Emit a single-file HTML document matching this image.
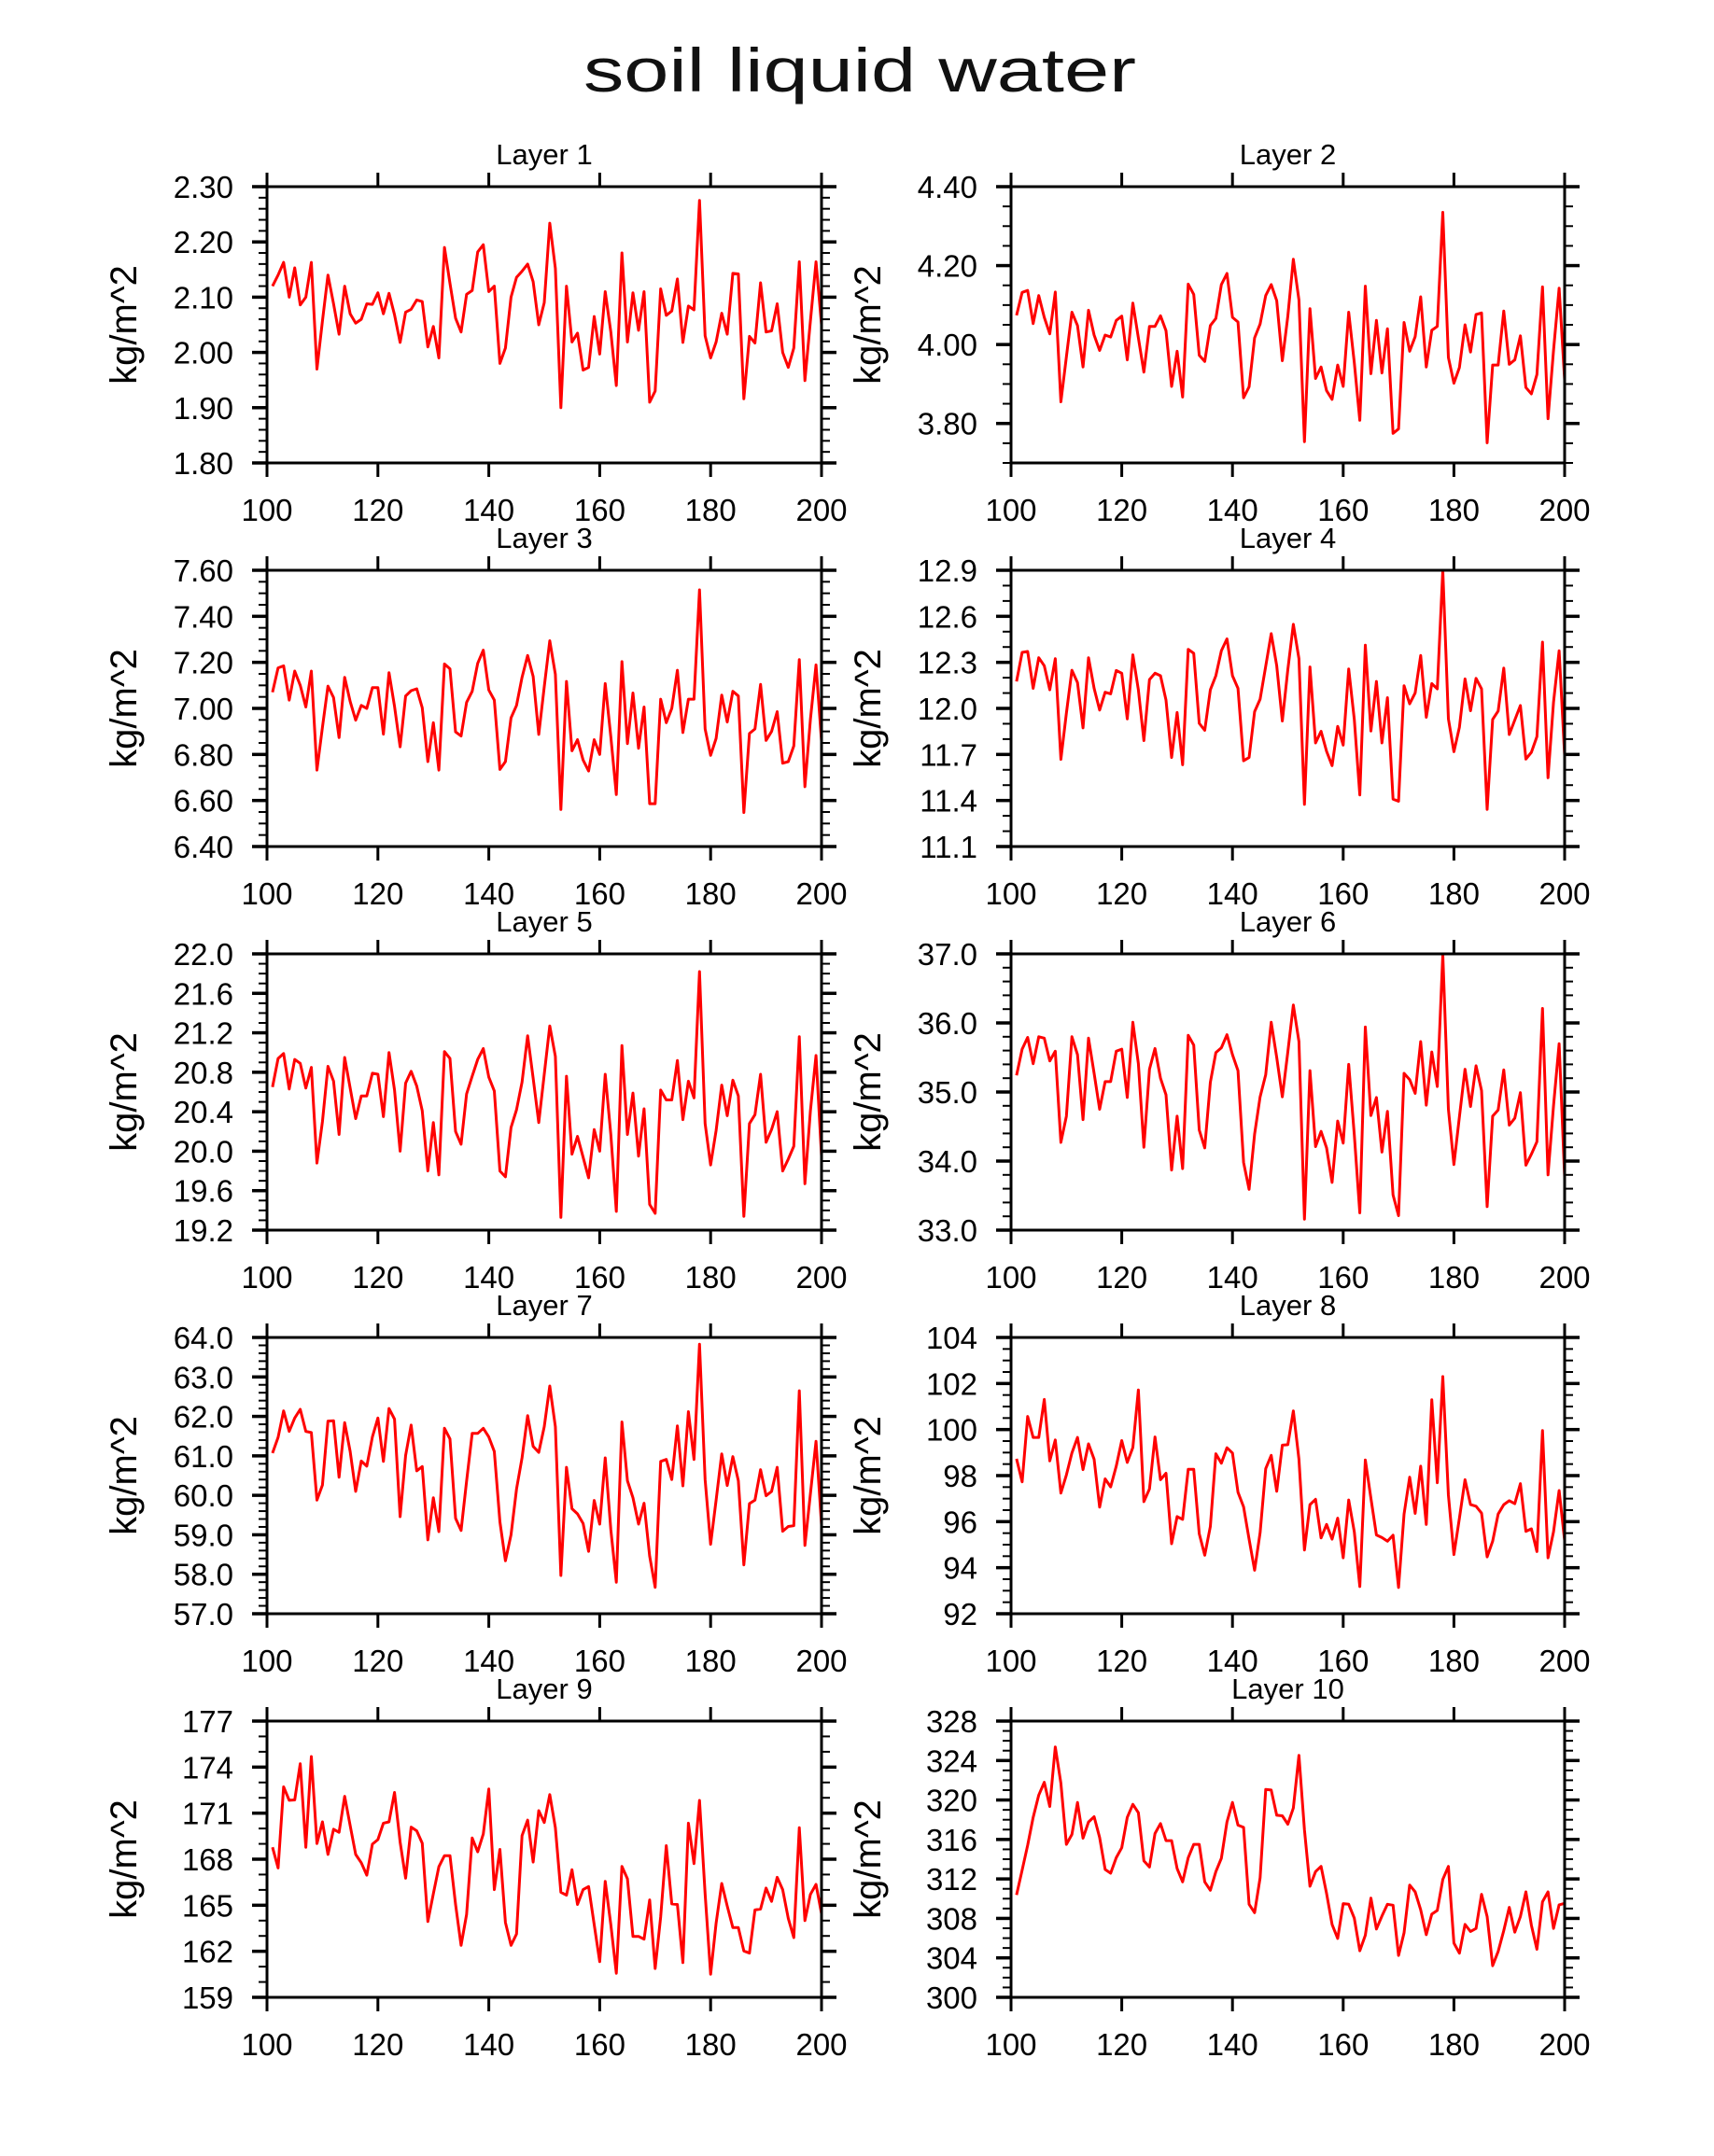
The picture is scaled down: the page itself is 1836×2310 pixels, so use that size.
<!DOCTYPE html>
<html><head><meta charset="utf-8"><title>soil liquid water</title>
<style>
html,body{margin:0;padding:0;background:#fff;}
svg{display:block;}
text{font-family:"Liberation Sans",sans-serif;fill:#000;}
</style></head>
<body>
<svg id="fig" width="1836" height="2310" viewBox="0 0 1836 2310" xmlns="http://www.w3.org/2000/svg">
<rect width="1836" height="2310" fill="#fff"/>
<text x="921" y="98" font-size="66" text-anchor="middle" textLength="592" lengthAdjust="spacingAndGlyphs" style="fill:#111">soil  liquid  water</text>
<text x="912" y="2342" font-size="40" text-anchor="middle">Nov 01</text>
</svg>
<script>
const layer1 = [2.12,2.14,2.163,2.10,2.153,2.086,2.10,2.163,1.97,2.057,2.14,2.088,2.033,2.12,2.07,2.053,2.06,2.088,2.087,2.108,2.07,2.107,2.068,2.018,2.073,2.078,2.095,2.092,2.01,2.047,1.99,2.19,2.125,2.062,2.037,2.105,2.112,2.182,2.195,2.11,2.12,1.98,2.008,2.10,2.136,2.147,2.16,2.128,2.05,2.09,2.234,2.152,1.90,2.12,2.019,2.035,1.968,1.973,2.065,1.997,2.11,2.037,1.94,2.18,2.019,2.108,2.04,2.11,1.91,1.93,2.115,2.067,2.075,2.133,2.018,2.084,2.077,2.275,2.03,1.99,2.019,2.071,2.033,2.143,2.142,1.916,2.029,2.017,2.126,2.037,2.039,2.088,2.0,1.973,2.008,2.164,1.949,2.057,2.164,2.05];
const layer2 = [4.074,4.132,4.137,4.053,4.124,4.069,4.027,4.133,3.855,3.969,4.082,4.048,3.943,4.087,4.024,3.985,4.024,4.019,4.061,4.072,3.961,4.105,4.017,3.93,4.046,4.046,4.073,4.035,3.894,3.983,3.867,4.153,4.127,3.973,3.957,4.048,4.066,4.152,4.18,4.069,4.057,3.865,3.893,4.017,4.052,4.124,4.152,4.111,3.959,4.072,4.216,4.113,3.754,4.091,3.914,3.943,3.883,3.861,3.948,3.894,4.082,3.954,3.808,4.148,3.926,4.061,3.928,4.04,3.775,3.786,4.056,3.983,4.02,4.121,3.943,4.036,4.046,4.335,3.967,3.902,3.942,4.05,3.981,4.076,4.08,3.751,3.948,3.948,4.085,3.95,3.961,4.022,3.891,3.875,3.924,4.146,3.812,3.985,4.143,3.91];
const layer3 = [7.07,7.176,7.185,7.036,7.162,7.10,7.006,7.162,6.732,6.918,7.097,7.047,6.873,7.135,7.03,6.949,7.013,7.0,7.09,7.09,6.888,7.155,7.009,6.833,7.054,7.077,7.085,7.003,6.769,6.938,6.732,7.193,7.172,6.898,6.88,7.026,7.074,7.196,7.253,7.08,7.036,6.735,6.769,6.959,7.013,7.135,7.23,7.139,6.887,7.094,7.294,7.148,6.561,7.117,6.816,6.864,6.776,6.728,6.864,6.80,7.108,6.877,6.626,7.203,6.847,7.067,6.827,7.006,6.586,6.586,7.04,6.938,7.0,7.166,6.895,7.04,7.04,7.515,6.911,6.796,6.87,7.058,6.941,7.074,7.054,6.548,6.891,6.911,7.104,6.861,6.90,6.986,6.762,6.769,6.837,7.212,6.66,6.952,7.189,6.857];
const layer4 = [12.176,12.365,12.371,12.131,12.33,12.278,12.121,12.324,11.668,11.969,12.249,12.168,11.873,12.33,12.131,11.989,12.105,12.095,12.247,12.229,11.932,12.349,12.121,11.79,12.188,12.229,12.213,12.054,11.68,11.973,11.633,12.385,12.359,11.903,11.857,12.121,12.213,12.375,12.453,12.213,12.131,11.659,11.68,11.979,12.06,12.274,12.487,12.278,11.918,12.253,12.548,12.324,11.375,12.27,11.775,11.851,11.72,11.627,11.883,11.761,12.257,11.928,11.436,12.412,11.853,12.176,11.775,12.07,11.409,11.395,12.148,12.03,12.101,12.345,11.942,12.162,12.127,12.9,11.932,11.718,11.877,12.192,11.985,12.196,12.127,11.342,11.928,11.983,12.263,11.83,11.924,12.019,11.67,11.714,11.816,12.432,11.548,12.04,12.375,11.694];
const layer5 = [20.65,20.94,20.99,20.63,20.93,20.89,20.64,20.85,19.88,20.30,20.86,20.71,20.17,20.95,20.64,20.33,20.56,20.56,20.79,20.78,20.35,21.0,20.62,20.0,20.69,20.81,20.66,20.41,19.80,20.29,19.76,21.01,20.94,20.20,20.07,20.58,20.76,20.93,21.04,20.75,20.61,19.80,19.74,20.24,20.42,20.70,21.17,20.74,20.29,20.78,21.27,20.96,19.33,20.76,19.97,20.15,19.94,19.73,20.22,20.0,20.78,20.17,19.39,21.07,20.17,20.59,19.95,20.43,19.46,19.37,20.62,20.52,20.52,20.92,20.32,20.71,20.54,21.82,20.28,19.86,20.21,20.67,20.36,20.72,20.56,19.34,20.28,20.37,20.78,20.09,20.22,20.40,19.80,19.92,20.05,21.16,19.67,20.41,20.97,19.95];
const layer6 = [35.24,35.62,35.79,35.41,35.80,35.78,35.45,35.59,34.27,34.65,35.80,35.54,34.60,35.78,35.27,34.75,35.15,35.15,35.59,35.62,34.92,36.01,35.41,34.20,35.33,35.63,35.20,34.96,33.87,34.65,33.89,35.82,35.68,34.45,34.19,35.14,35.57,35.64,35.83,35.54,35.31,33.98,33.59,34.39,34.93,35.25,36.01,35.50,34.93,35.58,36.26,35.73,33.16,35.31,34.21,34.43,34.19,33.69,34.58,34.26,35.40,34.38,33.25,35.94,34.66,34.92,34.13,34.72,33.51,33.21,35.27,35.18,34.98,35.73,34.81,35.58,35.08,36.99,34.75,33.95,34.64,35.33,34.79,35.38,35.02,33.34,34.65,34.74,35.32,34.52,34.62,34.99,33.94,34.10,34.28,36.21,33.80,34.80,35.70,33.77];
const layer7 = [61.07,61.47,62.14,61.62,61.96,62.18,61.62,61.59,59.88,60.26,61.88,61.89,60.46,61.84,61.11,60.10,60.87,60.74,61.48,61.96,60.86,62.20,61.93,59.46,61.01,61.78,60.62,60.73,58.87,59.94,59.08,61.70,61.43,59.42,59.11,60.36,61.57,61.57,61.70,61.48,61.11,59.33,58.34,59.0,60.16,60.95,62.02,61.24,61.09,61.74,62.77,61.74,57.97,60.71,59.66,59.53,59.29,58.58,59.87,59.27,60.95,59.13,57.80,61.86,60.37,59.94,59.27,59.80,58.46,57.67,60.86,60.91,60.40,61.76,60.24,62.12,60.91,63.83,60.40,58.76,59.88,61.05,60.25,60.98,60.37,58.24,59.79,59.88,60.65,59.99,60.10,60.71,59.09,59.21,59.23,62.65,58.73,60.04,61.37,59.25];
const layer8 = [98.73,97.73,100.57,99.66,99.66,101.31,98.64,99.55,97.24,98.03,98.98,99.66,98.26,99.38,98.71,96.63,97.86,97.51,98.41,99.52,98.57,99.22,101.72,96.87,97.42,99.68,97.82,98.10,95.04,96.22,96.10,98.27,98.27,95.48,94.54,95.79,98.95,98.54,99.21,98.98,97.28,96.64,95.24,93.89,95.52,98.30,98.88,97.32,99.32,99.34,100.81,98.71,94.77,96.74,96.97,95.29,95.88,95.24,96.15,94.43,96.94,95.56,93.18,98.68,97.01,95.42,95.31,95.15,95.41,93.14,96.33,97.93,96.36,98.41,95.88,101.29,97.69,102.30,97.15,94.57,96.15,97.82,96.74,96.67,96.37,94.47,95.15,96.33,96.74,96.91,96.78,97.65,95.58,95.69,94.70,99.96,94.43,95.56,97.35,95.18];
const layer9 = [168.78,167.43,172.71,171.84,171.86,174.22,168.78,174.69,169.02,170.43,168.31,169.95,169.75,172.10,170.19,168.31,167.77,166.96,168.98,169.28,170.35,170.43,172.35,169.12,166.76,170.09,169.85,169.04,163.94,165.75,167.51,168.23,168.23,165.05,162.39,164.40,169.38,168.48,169.65,172.57,166.02,168.64,163.88,162.39,163.13,169.54,170.55,167.81,171.16,170.39,172.21,170.05,165.85,165.65,167.31,165.05,166.02,166.22,163.74,161.32,166.56,163.74,160.57,167.53,166.72,162.97,162.97,162.79,165.35,160.88,164.24,168.88,165.09,165.05,161.26,170.35,167.71,171.83,165.75,160.51,163.84,166.42,164.95,163.54,163.54,162.02,161.88,164.69,164.75,166.12,165.25,166.82,166.02,164.14,162.89,170.05,164.0,165.71,166.36,164.44];
const layer10 = [310.38,312.89,315.41,318.24,320.50,321.79,319.34,325.38,321.70,315.50,316.51,319.75,316.13,317.77,318.30,316.19,312.96,312.58,314.15,315.16,318.24,319.56,318.71,313.84,313.21,316.60,317.61,315.88,315.88,313.05,311.70,314.15,315.50,315.50,311.70,310.85,312.74,314.09,317.77,319.75,317.45,317.23,309.43,308.58,312.11,321.07,321.01,318.46,318.40,317.55,319.18,324.53,316.98,311.26,312.74,313.27,310.53,307.39,305.97,309.50,309.43,308.02,304.72,306.29,310.06,306.92,308.24,309.43,309.34,304.25,306.54,311.38,310.69,308.87,306.35,308.43,308.81,311.95,313.27,305.50,304.47,307.39,306.67,306.98,310.44,308.18,303.21,304.65,306.76,309.12,306.60,308.18,310.69,307.30,304.87,309.69,310.69,306.98,309.37,309.53];

const xTicks = [100,120,140,160,180,200];
const yTicks1 = [1.80,1.90,2.00,2.10,2.20,2.30];
const yTicks2 = [3.80,4.00,4.20,4.40];
const yTicks3 = [6.40,6.60,6.80,7.00,7.20,7.40,7.60];
const yTicks4 = [11.1,11.4,11.7,12.0,12.3,12.6,12.9];
const yTicks5 = [19.2,19.6,20.0,20.4,20.8,21.2,21.6,22.0];
const yTicks6 = [33.0,34.0,35.0,36.0,37.0];
const yTicks7 = [57.0,58.0,59.0,60.0,61.0,62.0,63.0,64.0];
const yTicks8 = [92,94,96,98,100,102,104];
const yTicks9 = [159,162,165,168,171,174,177];
const yTicks10 = [300,304,308,312,316,320,324,328];

const NS = 'http://www.w3.org/2000/svg';
const svg = document.getElementById('fig');
function mk(tag, attrs, parent){
  const e = document.createElementNS(NS, tag);
  for (const k in attrs) e.setAttribute(k, attrs[k]);
  (parent||svg).appendChild(e);
  return e;
}
const panels = [
  {data:layer1, ticks:yTicks1, min:1.8, max:2.3, minor:0.02, dec:2},
  {data:layer2, ticks:yTicks2, min:3.7, max:4.4, minor:0.05, dec:2},
  {data:layer3, ticks:yTicks3, min:6.4, max:7.6, minor:0.05, dec:2},
  {data:layer4, ticks:yTicks4, min:11.1, max:12.9, minor:0.1, dec:1},
  {data:layer5, ticks:yTicks5, min:19.2, max:22.0, minor:0.1, dec:1},
  {data:layer6, ticks:yTicks6, min:33, max:37, minor:0.2, dec:1},
  {data:layer7, ticks:yTicks7, min:57, max:64, minor:0.2, dec:1},
  {data:layer8, ticks:yTicks8, min:92, max:104, minor:0.5, dec:0},
  {data:layer9, ticks:yTicks9, min:159, max:177, minor:1, dec:0},
  {data:layer10, ticks:yTicks10, min:300, max:328, minor:1, dec:0}
];
panels.forEach((p, i) => {
  const col = i % 2, row = Math.floor(i / 2);
  const L = col ? 1083 : 286, R = col ? 1676 : 880;
  const T = 200 + row * 411, B = T + 296;
  const g = mk('g', {});
  
  
  const xs = v => L + (v - 100) / 100 * (R - L);
  const ys = v => B - (v - p.min) / (p.max - p.min) * (B - T);
  const nMinor = Math.round((p.max - p.min) / p.minor);
  for (let k = 0; k <= nMinor; k++) {
    const y = ys(p.min + k * p.minor);
    const t1 = mk('line', {x1:L-9, x2:L, y1:y, y2:y, stroke:'#000', 'stroke-width':2}, g);
    
    
    const t2 = mk('line', {x1:R, x2:R+9, y1:y, y2:y, stroke:'#000', 'stroke-width':2}, g);
    
    
  }
  p.ticks.forEach(v => {
    const y = ys(v);
    const a = mk('line', {x1:L-16, x2:L, y1:y, y2:y, stroke:'#000', 'stroke-width':3.5}, g);
    
    
    const b = mk('line', {x1:R, x2:R+16, y1:y, y2:y, stroke:'#000', 'stroke-width':3.5}, g);
    
    
    const t = mk('text', {x:L-36, y:y+12, 'font-size':33, 'text-anchor':'end'}, g);
    
    
    t.textContent = v.toFixed(p.dec);
  });
  xTicks.forEach(v => {
    const x = xs(v);
    const a = mk('line', {x1:x, x2:x, y1:T-15, y2:T, stroke:'#000', 'stroke-width':3}, g);
    
    
    const b = mk('line', {x1:x, x2:x, y1:B, y2:B+15, stroke:'#000', 'stroke-width':3}, g);
    
    
    const t = mk('text', {x:x, y:B+62, 'font-size':33, 'text-anchor':'middle'}, g);
    
    
    t.textContent = v;
  });
  const pts = p.data.map((v, k) => xs(101 + k).toFixed(1) + ',' + ys(v).toFixed(1)).join(' ');
  const pl = mk('polyline', {points:pts, fill:'none', stroke:'#ff0000', 'stroke-width':3, 'stroke-linejoin':'round'}, g);
  
  
  const fr = mk('rect', {x:L, y:T, width:R-L, height:B-T, fill:'none', stroke:'#000', 'stroke-width':3}, g);
  
  
  const pt = mk('text', {x:(L+R)/2, y:T-24, 'font-size':31, 'text-anchor':'middle'}, g);
  
  
  pt.textContent = 'Layer  ' + (i+1);
  const cx = L - 140, cy = (T + B) / 2;
  const yt = mk('text', {x:cx, y:cy, 'font-size':40, 'text-anchor':'middle', transform:'rotate(-90 '+cx+' '+cy+')'}, g);
  
  
  yt.textContent = 'kg/m^2';
});
</script>
</body></html>
